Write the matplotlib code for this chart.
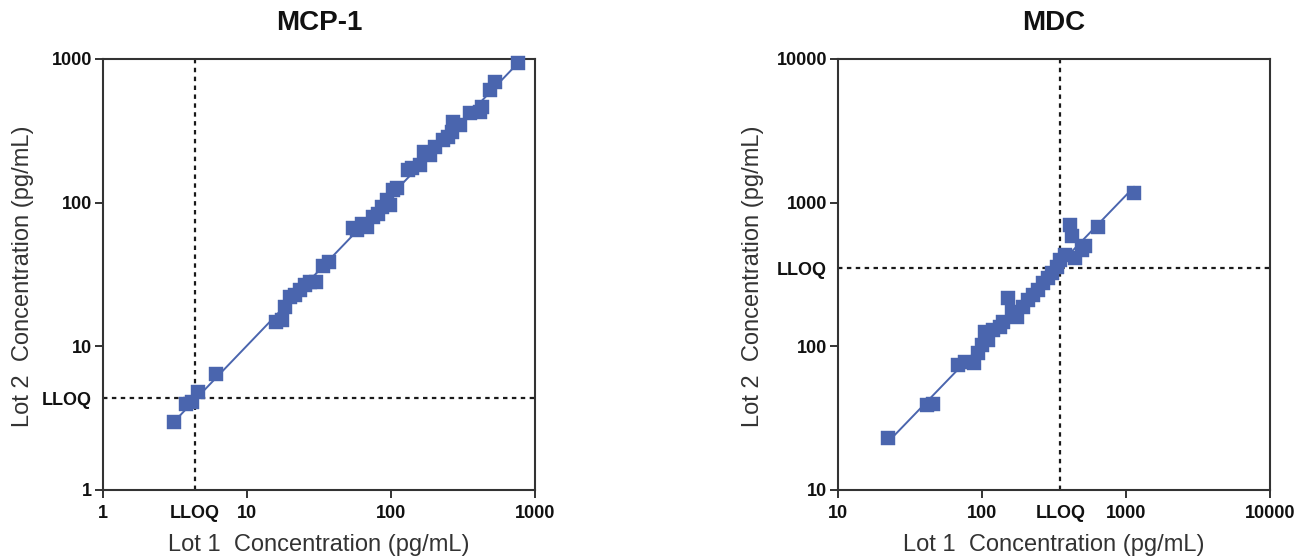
import numpy as np
import matplotlib
matplotlib.use("Agg")
import matplotlib.pyplot as plt

# ---------------- data ----------------
mcp1_titles = "MCP-1"
mdc_title = "MDC"

mcp1_lot1 = [3.11, 3.77, 4.15, 4.57, 6.09,
             15.9, 17.5, 18.4, 19.9, 21.5, 23.3, 25.3, 27.4, 30.1, 33.7, 37.1,
             54.5, 58.0, 62.9, 68.1, 75.0, 81.2, 86.6, 93.8, 98.4, 103, 110,
             131, 140, 159, 169, 187, 202, 230, 249, 265, 270, 301, 354, 415,
             428, 487, 527, 762]
mcp1_lot2 = [2.97, 4.0, 4.1, 4.81, 6.41,
             14.8, 15.2, 18.8, 22.0, 22.7, 24.7, 26.7, 28.0, 28.0, 36.2, 38.6,
             66.6, 64.5, 71.0, 67.6, 79.4, 83.3, 93.2, 104, 96.2, 122, 126,
             169, 174, 183, 225, 214, 244, 273, 286, 310, 364, 347, 421, 427,
             462, 608, 690, 936]
mcp1_lloq = 4.35

mdc_lot1 = [22.2, 41.5, 45.7, 68.1, 76.2, 87.9, 93.8, 100, 105, 110, 119, 133,
            140, 152, 161, 175, 193, 209, 226, 245, 265, 287, 306, 332, 348,
            377, 408, 422, 443, 495, 519, 640, 1137]
mdc_lot2 = [23.0, 39.1, 39.7, 74.1, 77.8, 76.6, 89.8, 102, 126, 111, 130, 136,
            148, 217, 173, 160, 188, 210, 227, 246, 276, 299, 324, 357, 399,
            432, 698, 586, 411, 468, 499, 676, 1166]
mdc_lloq = 350

mcp1_ticks = [1, 10, 100, 1000]
mdc_ticks = [10, 100, 1000, 10000]
xlabel_text = "Lot 1  Concentration (pg/mL)"
ylabel_text = "Lot 2  Concentration (pg/mL)"

# ---------------- style ----------------
BLUE = "#4a65ae"
FONT = "Liberation Sans"
plt.rcParams["font.family"] = [FONT, "DejaVu Sans"]

fig = plt.figure(figsize=(13.07, 5.58), dpi=100)
ax1 = fig.add_axes([103 / 1307, 68 / 558, 432 / 1307, 431 / 558])
ax2 = fig.add_axes([838 / 1307, 68 / 558, 432 / 1307, 431 / 558])


def draw(ax, x, y, ticks, lloq, title, ylab_x):
    x = np.asarray(x, float)
    y = np.asarray(y, float)
    ax.set_xscale("log")
    ax.set_yscale("log")
    ax.set_xlim(ticks[0], ticks[-1])
    ax.set_ylim(ticks[0], ticks[-1])

    # fitted line (log-log regression) over data range
    b, a = np.polyfit(np.log10(x), np.log10(y), 1)
    xs = np.array([x.min(), x.max()])
    ax.plot(xs, 10 ** (a + b * np.log10(xs)), color=BLUE, lw=1.4, zorder=3)

    # LLOQ lines
    ax.axvline(lloq, color="#1a1a1a", lw=1.6, ls=(0, (2, 2)), zorder=2)
    ax.axhline(lloq, color="#1a1a1a", lw=1.6, ls=(0, (2, 2)), zorder=2)

    ax.plot(x, y, ls="none", marker="s", ms=9.8, mfc=BLUE, mec=BLUE,
            mew=0.3, zorder=4, clip_on=False)

    # ticks
    tick_pos = sorted(ticks + [lloq])
    labels = ["LLOQ" if t == lloq else str(t) for t in tick_pos]
    for axis in (ax.xaxis, ax.yaxis):
        axis.set_ticks(tick_pos)
        axis.set_ticklabels(labels)
        axis.set_minor_locator(matplotlib.ticker.NullLocator())
    ax.tick_params(axis="both", which="major", length=6, width=1.4,
                   color="#333333", direction="out")
    ax.tick_params(axis="y", pad=2)
    ax.tick_params(axis="x", pad=5)
    for lab in ax.get_xticklabels() + ax.get_yticklabels():
        lab.set_fontsize(13)
        lab.set_fontweight("bold")
        lab.set_color("#111111")
    # no tick mark for LLOQ
    idx = tick_pos.index(lloq)
    ax.xaxis.get_major_ticks()[idx].tick1line.set_visible(False)
    ax.yaxis.get_major_ticks()[idx].tick1line.set_visible(False)

    for s in ax.spines.values():
        s.set_linewidth(1.5)
        s.set_color("#333333")

    ax.set_xlabel(xlabel_text, fontsize=17, color="#333333")
    ax.set_ylabel(ylabel_text, fontsize=17, color="#333333")
    ax.xaxis.set_label_coords(0.5, -0.103)
    ax.yaxis.set_label_coords(ylab_x, 0.495)
    ax.set_title(title, fontsize=20, fontweight="bold", pad=21, color="#111111")


draw(ax1, mcp1_lot1, mcp1_lot2, mcp1_ticks, mcp1_lloq, mcp1_titles, -0.16)
draw(ax2, mdc_lot1, mdc_lot2, mdc_ticks, mdc_lloq, mdc_title, -0.171)

fig.savefig("out.png", dpi=100)
